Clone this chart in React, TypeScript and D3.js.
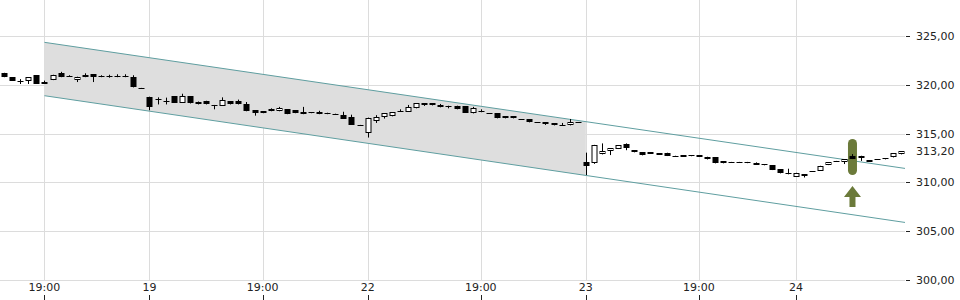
import React from "react";
import * as d3 from "d3";

// ---- data ----
const opens = [
  321.2, 320.8, 320.45, 320.4, 321.0, 320.3, 320.5, 321.25, 320.97, 320.5,
  320.8, 321.1, 320.95, 320.95, 320.9, 320.9, 320.8, 319.68, 318.8, 318.52,
  318.35, 318.85, 318.2, 318.85, 318.05, 318.38, 317.95, 317.85, 318.35, 318.35,
  318.0, 317.43, 317.1, 317.5, 317.3, 317.5, 317.4, 317.25, 317.2, 317.25,
  317.15, 317.02, 316.95, 316.75, 315.9, 315.03, 316.33, 316.75, 316.78, 317.35,
  317.25, 317.6, 318.1, 318.1, 317.95, 317.87, 317.87, 317.84, 317.08, 317.3,
  317.09, 317.08, 316.57, 316.57, 316.48, 316.47, 316.17, 316.16, 316.06, 315.91,
  315.91, 316.17, 312.1, 312.0, 312.87, 313.2, 313.42, 313.93, 313.3, 313.1,
  313.08, 312.98, 313.04, 312.73, 312.8, 312.8, 312.8, 312.63, 312.56, 311.95,
  312.1, 312.1, 312.1, 311.94, 311.87, 311.77, 311.36, 311.0, 310.57, 310.85,
  311.14, 311.19, 311.77, 312.19, 312.11, 312.73, 312.73, 312.29, 312.37, 312.49,
  312.56, 312.87,
];
const highs = [
  321.25, 320.8, 320.6, 320.8, 321.0, 320.45, 321.05, 321.35, 321.0, 320.85,
  321.2, 321.1, 321.0, 321.05, 321.1, 321.1, 321.0, 319.7, 318.8, 318.73,
  318.7, 318.85, 319.1, 318.85, 318.3, 318.38, 317.95, 318.73, 318.35, 318.5,
  318.25, 317.43, 317.3, 317.6, 317.75, 317.5, 317.4, 317.75, 317.2, 317.35,
  317.15, 317.05, 317.25, 316.95, 315.9, 316.65, 316.9, 317.1, 317.19, 317.5,
  317.95, 318.1, 318.1, 318.1, 318.05, 317.87, 317.87, 317.84, 317.75, 317.5,
  317.1, 317.08, 316.8, 316.8, 316.5, 316.47, 316.18, 316.16, 316.06, 316.1,
  316.5, 316.18, 313.05, 313.85, 314.0, 313.5, 313.83, 314.0, 313.3, 313.1,
  313.08, 312.98, 313.04, 312.73, 312.8, 312.8, 312.8, 312.63, 312.56, 312.18,
  312.1, 312.1, 312.1, 312.05, 311.87, 311.77, 311.36, 311.4, 310.98, 310.85,
  311.15, 311.7, 312.05, 312.2, 312.36, 312.9, 312.73, 312.29, 312.38, 312.49,
  312.97, 313.2,
];
const lows = [
  320.8, 320.45, 320.1, 320.1, 320.1, 320.1, 320.5, 320.8, 320.9, 320.3,
  320.8, 320.3, 320.8, 320.75, 320.8, 320.8, 319.75, 319.64, 317.4, 318.0,
  318.0, 318.2, 318.2, 318.1, 318.0, 318.0, 317.5, 317.85, 318.0, 318.0,
  317.3, 316.85, 317.1, 317.3, 317.3, 317.0, 317.1, 317.0, 317.1, 317.0,
  317.0, 316.95, 316.55, 315.9, 315.86, 314.6, 316.1, 316.55, 316.78, 317.33,
  317.25, 317.6, 317.85, 317.9, 317.7, 317.6, 317.5, 317.15, 317.08, 317.2,
  317.06, 316.57, 316.57, 316.57, 316.45, 316.16, 316.14, 315.9, 315.85, 315.8,
  315.85, 316.14, 310.75, 311.9, 312.87, 312.8, 313.42, 313.3, 313.08, 312.77,
  312.93, 312.85, 312.7, 312.63, 312.65, 312.68, 312.63, 312.35, 311.95, 311.95,
  312.0, 312.0, 311.97, 311.8, 311.75, 311.26, 310.92, 310.82, 310.57, 310.5,
  311.11, 311.19, 311.77, 312.16, 311.88, 312.39, 312.2, 312.11, 312.34, 312.36,
  312.56, 312.87,
];
const closes = [
  320.85, 320.45, 320.42, 320.8, 320.1, 320.1, 321.05, 320.8, 320.93, 320.85,
  321.0, 320.8, 320.8, 320.8, 320.8, 320.8, 319.75, 319.66, 317.75, 318.48,
  318.25, 318.2, 318.9, 318.1, 318.3, 318.0, 317.85, 318.45, 318.0, 318.0,
  317.3, 317.08, 317.3, 317.3, 317.6, 317.0, 317.1, 317.0, 317.1, 317.0,
  317.0, 317.0, 316.55, 315.9, 315.88, 316.57, 316.67, 317.08, 317.19, 317.33,
  317.76, 318.1, 317.94, 317.9, 317.7, 317.85, 317.5, 317.15, 317.6, 317.2,
  317.08, 316.57, 316.8, 316.8, 316.47, 316.16, 316.16, 316.02, 315.85, 315.9,
  316.22, 316.16, 311.7, 313.83, 313.2, 313.5, 313.83, 313.5, 313.08, 312.77,
  312.93, 312.85, 312.7, 312.63, 312.65, 312.68, 312.63, 312.35, 311.95, 312.18,
  312.0, 312.0, 311.97, 311.8, 311.75, 311.26, 310.92, 310.82, 310.98, 310.67,
  311.13, 311.7, 312.05, 312.18, 312.36, 312.39, 312.46, 312.11, 312.36, 312.36,
  312.97, 313.2,
];

const timeTickIndex = [5, 18, 32, 45, 59, 72, 86, 98];
const timeTickLabels = ["19:00", "19", "19:00", "22", "19:00", "23", "19:00", "24"];
const priceTicks = [300, 305, 310, 315, 320, 325];

// trend channel: [index, upper, lower]
const channelStart = [5, 324.38, 318.9];
const channelEnd = [111.5, 311.43, 305.88];
const channelFillEndIndex = 72;

const signalIndex = 105;
const signalRange = [310.75, 314.46];

const W = 960;
const H = 300;
const plotRight = 905;
const plotBottom = 280;

const fmt = (v: number) => v.toFixed(2).replace(".", ",");

export default function App() {
  const n = opens.length;
  const x = d3.scaleLinear().domain([-0.5, n - 0.5]).range([0, plotRight]);
  const y = d3.scaleLinear().domain([300, 325]).range([279.7, 36.3]);
  const bw = 5;

  const chanAt = (i: number, k: 1 | 2) => {
    const t = (i - channelStart[0]) / (channelEnd[0] - channelStart[0]);
    return channelStart[k] + t * (channelEnd[k] - channelStart[k]);
  };
  const x0 = x(channelStart[0]);
  const x1 = x(channelEnd[0]);
  const xf = x(channelFillEndIndex);
  const fillPts: [number, number][] = [
    [x0, y(chanAt(channelStart[0], 1))],
    [xf, y(chanAt(channelFillEndIndex, 1))],
    [xf, y(chanAt(channelFillEndIndex, 2))],
    [x0, y(chanAt(channelStart[0], 2))],
  ];
  const line = d3.line();

  const last = closes[n - 1];
  const sx = x(signalIndex);
  const aTop = 186;

  return (
    <svg
      width={W}
      height={H}
      style={{ position: "absolute", left: 0, top: 0, background: "#fff" }}
      fontFamily="DejaVu Sans, sans-serif"
    >
      {/* grid */}
      {priceTicks.map((p) => (
        <line key={"h" + p} x1={0} x2={plotRight} y1={Math.round(y(p)) + 0.5} y2={Math.round(y(p)) + 0.5} stroke="#dcdcdc" />
      ))}
      {timeTickIndex.map((t) => (
        <line key={"v" + t} x1={Math.round(x(t)) + 0.5} x2={Math.round(x(t)) + 0.5} y1={0} y2={plotBottom} stroke="#dcdcdc" />
      ))}

      {/* channel fill */}
      <path d={(line(fillPts) as string) + "Z"} fill="#dedede" />
      <line x1={x0} x2={x1} y1={y(chanAt(channelStart[0], 1))} y2={y(chanAt(channelEnd[0], 1))} stroke="#5f9ea0" strokeWidth={1} />
      <line x1={x0} x2={x1} y1={y(chanAt(channelStart[0], 2))} y2={y(chanAt(channelEnd[0], 2))} stroke="#5f9ea0" strokeWidth={1} />

      {/* signal marker */}
      <rect x={sx - 4.5} y={y(signalRange[1])} width={9} height={y(signalRange[0]) - y(signalRange[1])} rx={4.5} fill="#6b7a3a" />
      <path
        d={`M${sx},${aTop} L${sx + 8.5},${aTop + 11} L${sx + 3},${aTop + 11} L${sx + 3},${aTop + 21} L${sx - 3},${aTop + 21} L${sx - 3},${aTop + 11} L${sx - 8.5},${aTop + 11} Z`}
        fill="#6b7a3a"
      />

      {/* candles */}
      {opens.map((o, i) => {
        const c = closes[i];
        const cx = Math.round(x(i)) + 0.5;
        const up = c >= o;
        const top = Math.round(y(Math.max(o, c)));
        const bot = Math.round(y(Math.min(o, c)));
        const h = Math.max(1, bot - top);
        return (
          <g key={i}>
            <line x1={cx} x2={cx} y1={y(highs[i])} y2={y(lows[i])} stroke="#000" />
            {up ? (
              <rect x={cx - bw / 2} y={top + 0.5} width={bw} height={Math.max(1, h - 1)} fill="#fff" stroke="#000" />
            ) : (
              <rect x={cx - bw / 2 - 0.5} y={top} width={bw + 1} height={h} fill="#000" />
            )}
          </g>
        );
      })}

      {/* right axis */}
      {priceTicks.map((p) => (
        <g key={"t" + p}>
          <line x1={906} x2={910} y1={Math.round(y(p)) + 0.5} y2={Math.round(y(p)) + 0.5} stroke="#222" />
          <text x={916} y={y(p) + 4} fontSize={11} fill="#222">{fmt(p)}</text>
        </g>
      ))}
      <text x={916} y={y(last) + 4} fontSize={11} fill="#222">{fmt(last)}</text>

      {/* bottom axis */}
      {timeTickIndex.map((t, k) => (
        <g key={"b" + t}>
          <text x={x(t)} y={291} fontSize={11} fill="#222" textAnchor="middle">{timeTickLabels[k]}</text>
          <line x1={Math.round(x(t)) + 0.5} x2={Math.round(x(t)) + 0.5} y1={295} y2={300} stroke="#222" />
        </g>
      ))}
    </svg>
  );
}
